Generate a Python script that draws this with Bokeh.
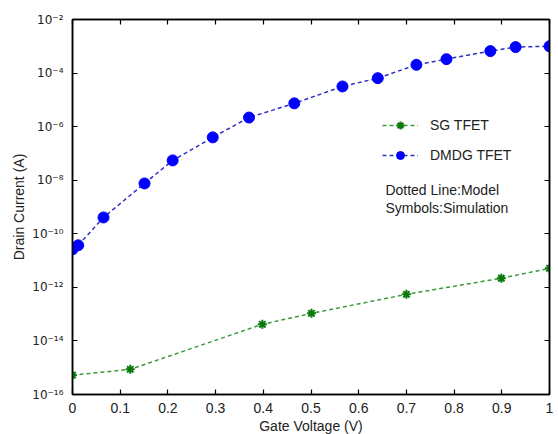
import numpy as np
from bokeh.plotting import figure
from bokeh.models import (LinearAxis, LogAxis, FixedTicker, CustomJSTickFormatter,
                          Legend, LegendItem, Label, ColumnDataSource, CustomLabelingPolicy)
from bokeh.embed import file_html
from bokeh.resources import INLINE

# ---- data ----
dmdg_vg = [0.0, 0.012, 0.065, 0.151, 0.21, 0.294, 0.37, 0.465, 0.566, 0.64, 0.721, 0.784, 0.876, 0.929, 1.0]
dmdg_log_id = [-10.58, -10.43, -9.39, -8.12, -7.26, -6.40, -5.66, -5.13, -4.50, -4.19, -3.69, -3.48, -3.18, -3.03, -3.00]
sg_vg = [0.0, 0.121, 0.398, 0.501, 0.70, 0.899, 1.0]
sg_log_id = [-15.28, -15.06, -13.38, -12.97, -12.26, -11.66, -11.29]

x_ticks = [0.0, 0.1, 0.2, 0.3, 0.4, 0.5, 0.6, 0.7, 0.8, 0.9, 1.0]
y_ticks = [1e-16, 1e-14, 1e-12, 1e-10, 1e-8, 1e-6, 1e-4, 1e-2]

dmdg = ColumnDataSource(dict(x=dmdg_vg, y=[10.0 ** v for v in dmdg_log_id]))
sg = ColumnDataSource(dict(x=sg_vg, y=[10.0 ** v for v in sg_log_id]))

FONT = "Liberation Sans"

p = figure(frame_width=477, frame_height=375, y_axis_type="log",
           x_range=(0, 1), y_range=(1e-16, 1e-2),
           output_backend="svg", toolbar_location=None,
           min_border_left=72, min_border_top=19, min_border_right=6, min_border_bottom=34,
           background_fill_color="white", border_fill_color="white")
p.grid.visible = False
p.outline_line_color = "black"
p.outline_line_width = 1.5

sup_code = """
const e = Math.round(Math.log10(tick));
const sup = {'-':'\u207b','0':'\u2070','1':'\u00b9','2':'\u00b2','3':'\u00b3','4':'\u2074','5':'\u2075','6':'\u2076','7':'\u2077','8':'\u2078','9':'\u2079'};
return '10' + String(e).split('').map(c => sup[c]).join('');
"""
x_code = """
if (Math.abs(tick) < 1e-9) return '0';
if (Math.abs(tick - 1) < 1e-9) return '1';
return tick.toFixed(1);
"""
hide_code = """
const n = indices.size;
for (let i = 0; i < n; i++) indices.unset(i);
return indices;
"""

def style_axis(ax):
    ax.axis_line_color = "black"
    ax.axis_line_width = 1.5
    ax.major_tick_in = 5
    ax.major_tick_out = 0
    ax.major_tick_line_color = "black"
    ax.major_tick_line_width = 1.2
    ax.minor_tick_line_color = None
    ax.major_label_text_font = FONT
    ax.major_label_text_font_size = "14px"
    ax.major_label_text_color = "#222222"
    ax.axis_label_text_font = FONT
    ax.axis_label_text_font_size = "14px"
    ax.axis_label_text_font_style = "normal"
    ax.axis_label_text_color = "#222222"

xa = p.xaxis[0]
xa.ticker = FixedTicker(ticks=x_ticks)
xa.formatter = CustomJSTickFormatter(code=x_code)
xa.axis_label = "Gate Voltage (V)"
style_axis(xa)
xa.major_label_standoff = 8
xa.axis_label_standoff = 2

ya = p.yaxis[0]
ya.ticker = FixedTicker(ticks=y_ticks)
ya.formatter = CustomJSTickFormatter(code=sup_code)
ya.axis_label = "Drain Current (A)"
style_axis(ya)
ya.major_label_text_font = "DejaVu Sans"
ya.major_label_text_font_size = "12px"
ya.major_label_standoff = 9
ya.axis_label_standoff = 2

top = LinearAxis(ticker=FixedTicker(ticks=x_ticks),
                 major_label_policy=CustomLabelingPolicy(code=hide_code))
style_axis(top)
top.major_label_standoff = 0
p.add_layout(top, "above")

right = LogAxis(ticker=FixedTicker(ticks=y_ticks),
                major_label_policy=CustomLabelingPolicy(code=hide_code))
style_axis(right)
right.major_label_standoff = 0
p.add_layout(right, "right")

# ---- series ----
sg_line = p.line("x", "y", source=sg, line_color="#3a9a3a", line_dash="4 3", line_width=1.5)
sg_pts = p.scatter("x", "y", source=sg, marker="asterisk", size=9,
                   line_color="#0b7a0b", line_width=2)
dm_line = p.line("x", "y", source=dmdg, line_color="#3030c0", line_dash="4 3", line_width=1.5)
dm_pts = p.scatter("x", "y", source=dmdg, marker="circle", size=11,
                   fill_color="#0000ff", line_color="#0000ff")

legend = Legend(items=[LegendItem(label="SG TFET", renderers=[sg_line, sg_pts]),
                       LegendItem(label="DMDG TFET", renderers=[dm_line, dm_pts])],
                location=(310, 229), orientation="vertical",
                background_fill_alpha=0, border_line_alpha=0,
                padding=0, margin=0, spacing=10,
                glyph_width=36, glyph_height=20, label_height=20,
                label_text_font=FONT, label_text_font_size="14px",
                label_text_color="#222222", label_standoff=12)
p.add_layout(legend, "center")

for txt, yy in [("Dotted Line:Model", 10 ** -8.38), ("Symbols:Simulation", 10 ** -9.05)]:
    p.add_layout(Label(x=0.656, y=yy, text=txt, text_font=FONT, text_font_size="14px",
                       text_baseline="middle", text_color="#222222"))

open("out.html", "w").write(file_html(p, INLINE))
